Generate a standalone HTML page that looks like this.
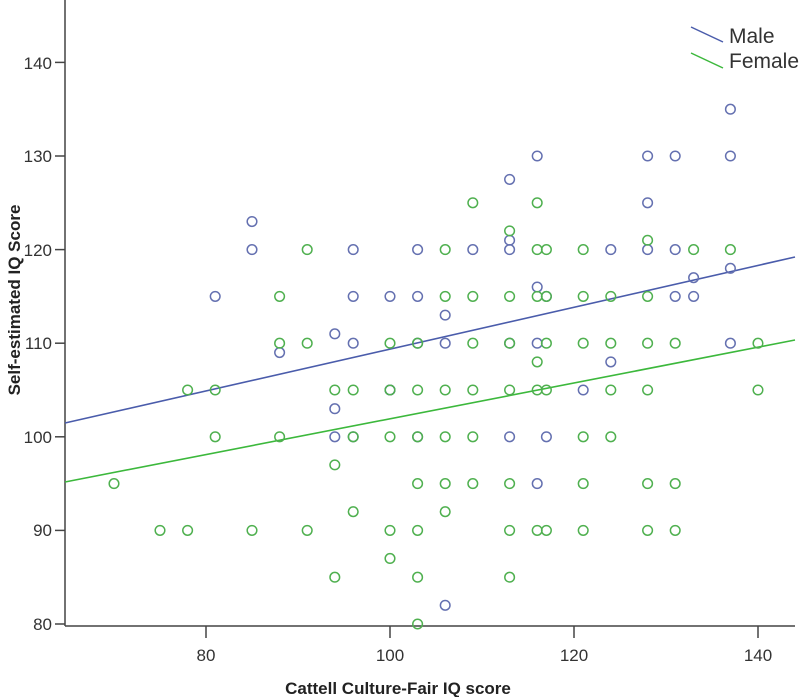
<!DOCTYPE html>
<html><head><style>body{margin:0;background:#fff}svg{display:block;font-family:"Liberation Sans",sans-serif}</style></head>
<body>
<svg id="s" width="800" height="697" xmlns="http://www.w3.org/2000/svg">
<rect width="800" height="697" fill="#fff"/>
<g stroke="#444" stroke-width="1.5">
<line x1="65" y1="0" x2="65" y2="626"/><line x1="65" y1="626" x2="795" y2="626"/>
<line x1="55" y1="62.4" x2="65" y2="62.4"/><line x1="55" y1="156" x2="65" y2="156"/><line x1="55" y1="249.6" x2="65" y2="249.6"/><line x1="55" y1="343.2" x2="65" y2="343.2"/><line x1="55" y1="436.8" x2="65" y2="436.8"/><line x1="55" y1="530.4" x2="65" y2="530.4"/><line x1="55" y1="624" x2="65" y2="624"/>
<line x1="206" y1="626" x2="206" y2="638"/><line x1="390" y1="626" x2="390" y2="638"/><line x1="574" y1="626" x2="574" y2="638"/><line x1="758" y1="626" x2="758" y2="638"/>
</g>
<g font-size="17" fill="#333" text-anchor="end">
<text x="52" y="69">140</text><text x="52" y="162">130</text><text x="52" y="256">120</text><text x="52" y="349">110</text><text x="52" y="443">100</text><text x="52" y="536">90</text><text x="52" y="630">80</text>
</g>
<g font-size="17" fill="#333" text-anchor="middle">
<text x="206" y="661">80</text><text x="390" y="661">100</text><text x="574" y="661">120</text><text x="758" y="661">140</text>
</g>
<text x="398" y="694" font-size="17" font-weight="bold" fill="#222" text-anchor="middle">Cattell Culture-Fair IQ score</text>
<text transform="translate(20,300) rotate(-90)" font-size="17" font-weight="bold" fill="#222" text-anchor="middle">Self-estimated IQ Score</text>
<line x1="65" y1="423" x2="795" y2="257" stroke="#4a5cab" stroke-width="1.6"/>
<line x1="65" y1="482" x2="795" y2="340" stroke="#3cb83c" stroke-width="1.6"/>
<line x1="691" y1="27" x2="723" y2="42" stroke="#4a5cab" stroke-width="1.5"/>
<line x1="691" y1="53" x2="723" y2="68" stroke="#3cb83c" stroke-width="1.5"/>
<text x="729" y="43" font-size="21" fill="#333">Male</text>
<text x="729" y="68" font-size="21" fill="#333">Female</text>
<g id="pts" fill="none" stroke-width="1.5"></g>
</svg>
<script>
const M=[[81,115],[85,123],[85,120],[88,109],[94,111],[94,103],[94,100],[96,120],[96,115],[96,110],[96,100],[100,115],[100,105],[103,120],[103,115],[103,110],[106,113],[106,110],[106,82],[109,120],[113,127.5],[113,121],[113,120],[113,110],[113,100],[116,130],[116,116],[116,110],[116,95],[117,115],[117,100],[121,105],[124,120],[124,108],[128,130],[128,125],[128,120],[131,130],[131,120],[131,115],[133,117],[133,115],[137,135],[137,130],[137,118],[137,110],[103,100],[100,105]];
const F=[[70,95],[75,90],[78,105],[78,90],[81,105],[81,100],[85,90],[88,115],[88,110],[88,100],[91,120],[91,110],[91,90],[94,105],[94,97],[94,85],[96,105],[96,100],[96,92],[100,105],[100,100],[100,90],[100,87],[103,105],[103,100],[103,95],[103,90],[103,85],[103,80],[106,120],[106,115],[106,105],[106,100],[106,95],[106,92],[109,125],[109,115],[109,110],[109,105],[109,100],[109,95],[113,122],[113,115],[113,110],[113,105],[113,95],[113,90],[113,85],[116,125],[116,120],[116,115],[116,108],[116,105],[116,90],[117,120],[117,115],[117,110],[117,105],[117,90],[121,120],[121,115],[121,110],[121,100],[121,95],[121,90],[124,115],[124,110],[124,105],[124,100],[128,121],[128,115],[128,110],[128,105],[128,95],[128,90],[131,110],[131,95],[131,90],[133,120],[137,120],[140,110],[140,105],[100,110],[103,110]];
const g=document.getElementById('pts');
function add(a,c){a.forEach(p=>{const e=document.createElementNS('http://www.w3.org/2000/svg','circle');e.setAttribute('cx',206+(p[0]-80)*9.2);e.setAttribute('cy',624-(p[1]-80)*9.36);e.setAttribute('r',4.8);e.setAttribute('stroke',c);g.appendChild(e);});}
add(M,'#6470b0');add(F,'#4fb04f');
</script>
</body></html>
